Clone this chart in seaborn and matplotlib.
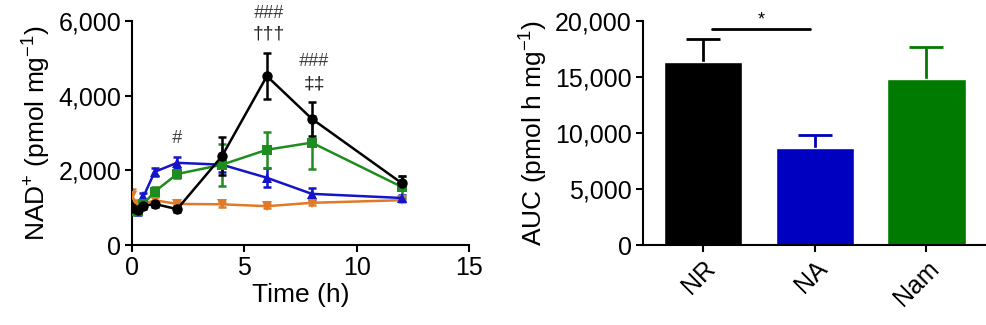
import numpy as np
import pandas as pd
import matplotlib
matplotlib.use("Agg")
import matplotlib.pyplot as plt
from matplotlib.ticker import FuncFormatter
import seaborn as sns

# Time course of NAD+ after supplementation (h)
time_h = [0, 0.25, 0.5, 1, 2, 4, 6, 8, 12]

nr_mean = [1000, 950, 1050, 1100, 960, 2380, 4520, 3380, 1660]
nr_err = [120, 100, 80, 80, 80, 500, 620, 450, 180]

na_mean = [1000, 900, 1300, 1960, 2200, 2150, 1800, 1370, 1260]
na_err = [120, 100, 100, 100, 150, 200, 250, 150, 80]

nam_mean = [900, 920, 1100, 1430, 1900, 2150, 2550, 2740, 1560]
nam_err = [100, 100, 100, 120, 100, 560, 480, 700, 300]

veh_mean = [1300, 1050, 1100, 1200, 1100, 1090, 1040, 1130, 1200]
veh_err = [200, 150, 80, 80, 60, 60, 60, 60, 60]

# Area under the curve per group
groups = ["NR", "NA", "Nam"]
auc_mean = [16330, 8620, 14820]
auc_err = [2040, 1200, 2800]

colors = {"NR": "#000000", "NA": "#1414c8", "Nam": "#1e8c1e", "Veh": "#e07a26"}
bar_colors = ["#000000", "#0000c0", "#007a00"]
markers = {"NR": "o", "NA": "^", "Nam": "s", "Veh": "v"}

FS_TICK = 18
FS_LABEL = 19

sns.set_style("ticks")
plt.rcParams["font.family"] = ["Liberation Sans", "DejaVu Sans"]
plt.rcParams["mathtext.fontset"] = "custom"
plt.rcParams["mathtext.rm"] = "Liberation Sans"
plt.rcParams["mathtext.it"] = "Liberation Sans:italic"
for key in ["text.color", "axes.labelcolor", "xtick.color", "ytick.color", "axes.edgecolor"]:
    plt.rcParams[key] = "black"
plt.rcParams["axes.linewidth"] = 1.5
plt.rcParams["xtick.major.width"] = 1.5
plt.rcParams["ytick.major.width"] = 1.5
plt.rcParams["xtick.major.size"] = 5
plt.rcParams["ytick.major.size"] = 5

series = {"NR": (nr_mean, nr_err), "NA": (na_mean, na_err),
          "Nam": (nam_mean, nam_err), "Veh": (veh_mean, veh_err)}

rows = []
for name, (m, e) in series.items():
    for t, v, s in zip(time_h, m, e):
        rows.append({"time": t, "nad": v, "err": s, "group": name})
df = pd.DataFrame(rows)

fig = plt.figure(figsize=(9.87, 3.25), dpi=100)
ax1 = fig.add_axes([0.134, 0.246, 0.341, 0.690])
ax2 = fig.add_axes([0.6515, 0.246, 0.346, 0.690])

fmt = FuncFormatter(lambda v, p: f"{int(v):,}")

# Left panel: time course
order = ["Veh", "NA", "Nam", "NR"]
for name in order:
    sub = df[df.group == name]
    ax1.errorbar(sub.time, sub.nad, yerr=sub.err, fmt="none",
                 ecolor=colors[name], elinewidth=1.8, capsize=3, capthick=1.8, zorder=2)
sns.lineplot(data=df, x="time", y="nad", hue="group", style="group",
             hue_order=order, style_order=order,
             palette=colors, markers=markers, dashes=False,
             markersize=7.5, linewidth=1.8, markeredgewidth=0,
             legend=False, ax=ax1, zorder=3)

ax1.set_xlim(0, 15)
ax1.set_ylim(0, 6000)
ax1.set_xticks([0, 5, 10, 15])
ax1.set_yticks([0, 2000, 4000, 6000])
ax1.yaxis.set_major_formatter(fmt)
ax1.set_xlabel("Time (h)", fontsize=FS_LABEL, labelpad=2)
ax1.set_ylabel("NAD$^{+}$ (pmol mg$^{-1}$)", fontsize=FS_LABEL, labelpad=4)
ax1.tick_params(labelsize=FS_TICK, pad=3)
sns.despine(ax=ax1)

ann_color = "#404040"
ax1.text(2, 2850, "#", ha="center", va="center", fontsize=13, color=ann_color, style="italic")
ax1.text(6.1, 6200, "###", ha="center", va="center", fontsize=13, color=ann_color,
         style="italic", clip_on=False)
ax1.text(6.1, 5650, "†††", ha="center", va="center", fontsize=14, color="#202020", clip_on=False)
ax1.text(8.1, 4900, "###", ha="center", va="center", fontsize=13, color=ann_color, style="italic")
ax1.text(8.1, 4320, "‡‡", ha="center", va="center", fontsize=14, color="#202020")

# Right panel: area under the curve
auc_df = pd.DataFrame({"group": groups, "auc": auc_mean, "err": auc_err})
sns.barplot(data=auc_df, x="group", y="auc", hue="group", palette=bar_colors,
            saturation=1, width=0.7, legend=False, ax=ax2, zorder=2)
for i, (m, e, c) in enumerate(zip(auc_mean, auc_err, bar_colors)):
    _, caps, _ = ax2.errorbar(i, m, yerr=[[0], [e]], fmt="none", ecolor=c,
                              elinewidth=2, capsize=12, capthick=2, zorder=1)
    caps[0].set_visible(False)

ax2.set_xlim(-0.54, 2.52)
ax2.set_ylim(0, 20000)
ax2.set_yticks([0, 5000, 10000, 15000, 20000])
ax2.yaxis.set_major_formatter(fmt)
ax2.set_xlabel("")
ax2.set_ylabel("AUC (pmol h mg$^{-1}$)", fontsize=FS_LABEL, labelpad=4)
ax2.tick_params(labelsize=FS_TICK, pad=3)
plt.setp(ax2.get_xticklabels(), rotation=45, ha="right", rotation_mode="anchor")
sns.despine(ax=ax2)

# Significance bracket NR vs NA
ax2.plot([0.08, 0.96], [19300, 19300], color="black", lw=2, clip_on=False)
ax2.text(0.52, 20100, "*", ha="center", va="center", fontsize=13)

fig.savefig("out.png", dpi=100)
